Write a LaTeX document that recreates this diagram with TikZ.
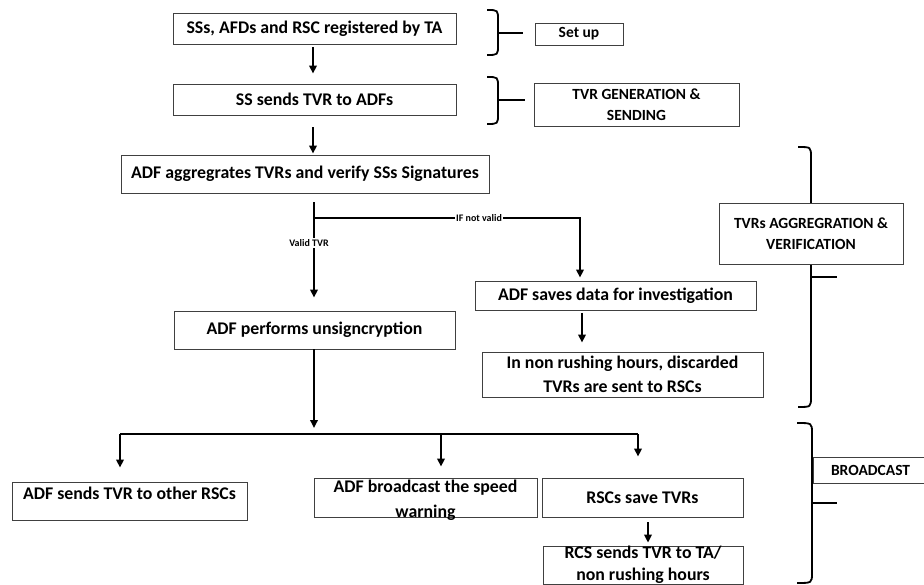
\documentclass[tikz,border=0pt]{standalone}
\usepackage{fontspec}
\setmainfont{Carlito}
\usetikzlibrary{arrows.meta}
\begin{document}
\begin{tikzpicture}[x=1pt,y=-1pt,
  box/.style={draw=black!75, line width=0.9pt, fill=white, inner sep=0pt, align=center, font=\bfseries\fontsize{17.8}{25}\selectfont},
  txt/.style={inner sep=0pt, align=center, font=\bfseries\fontsize{17.8}{24}\selectfont},
  tag/.style={draw=black!75, line width=0.9pt, fill=white, inner sep=0pt, align=center, font=\bfseries\fontsize{15.5}{21.5}\selectfont},
  arr/.style={line width=1.8pt, -{Triangle[length=8pt,width=7.5pt]}},
  ln/.style={line width=1.8pt},
  brace/.style={line width=1.8pt},
  small/.style={fill=white, inner sep=1pt, font=\bfseries\fontsize{10}{12}\selectfont}]
\clip (0,0) rectangle (924,585);
\fill[white] (0,0) rectangle (924,585);

% braces
\draw[brace] (487,10) .. controls (498,10) .. (498,20) -- (498,45) .. controls (498,55) .. (487,55);
\draw[brace] (498,33) -- (523,33);
\draw[brace] (487,77) .. controls (498,77) .. (498,87) -- (498,114) .. controls (498,124) .. (487,124);
\draw[brace] (498,100) -- (525,100);
\draw[brace] (798,147) .. controls (811,147) .. (811,157) -- (811,397) .. controls (811,407) .. (798,407);
\draw[brace] (811,277) -- (837,277);
\draw[brace] (797,423) .. controls (812,423) .. (812,433) -- (812,573) .. controls (812,583) .. (797,583);
\draw[brace] (812,503) -- (837,503);

% main boxes
\node[box, minimum width=283, minimum height=31] (b1) at (314.5,28.5) {SSs, AFDs and RSC registered by TA};
\node[box, minimum width=283, minimum height=31] (b2) at (314.5,99.5) {SS sends TVR to ADFs};
\node[box, minimum width=368, minimum height=38] (b3) at (305,174) {ADF aggregrates TVRs and verify SSs Signatures};
\node[box, minimum width=281, minimum height=38] (b4) at (314.5,330) {ADF performs unsigncryption};
\node[box, minimum width=281, minimum height=29] (b9) at (615.5,295.5) {ADF saves data for investigation};
\node[box, minimum width=281, minimum height=45, font=\bfseries\fontsize{17.8}{24}\selectfont] (b10) at (622.5,374.5) {In non rushing hours, discarded\\TVRs are sent to RSCs};
\node[box, minimum width=235, minimum height=38, text height=13pt, text depth=17pt] (b5) at (129.5,501) {ADF sends TVR to other RSCs};
\node[box, minimum width=223, minimum height=39] (b6) at (425.5,497.5) {};
\node[txt, font=\bfseries\fontsize{17.8}{25}\selectfont] (b6t) at ([yshift=-3pt]b6.center) {ADF broadcast the speed\\warning};
\node[box, minimum width=201, minimum height=39] (b7) at (642.5,497.5) {RSCs save TVRs};
\node[box, minimum width=200, minimum height=38.5] (b8) at (643,565.3) {};
\node[txt, font=\bfseries\fontsize{17.8}{22}\selectfont] (b8t) at ([yshift=1pt]b8.center) {RCS sends TVR to TA/\\non rushing hours};

% phase tags
\node[tag, minimum width=88, minimum height=22] (t1) at (579,34) {Set up};
\node[tag, minimum width=205, minimum height=43] (t2) at (636.5,104.5) {TVR GENERATION \&\\SENDING};
\node[tag, minimum width=184, minimum height=61] (t3) at (811,233.5) {TVRs AGGREGRATION \&\\VERIFICATION};
\node[tag, minimum width=130, minimum height=26, text width=120, align=left] (t4) at (878,470) {\hspace*{13pt}BROADCAST};

% connectors
\draw[arr] ([xshift=-1.5pt]b1.south) ++(0,3) -- ([xshift=-1.5pt,yshift=10pt]b2.north);
\draw[arr] ([xshift=-1.5pt]b2.south) ++(0,12) coordinate (a2s) -- ([yshift=1pt]a2s |- b3.north);
\coordinate (br) at (314,218);
\draw[arr] (b3.south -| br) ++(0,9) coordinate (a3s) -- ([yshift=13pt]a3s |- b4.north);
\node[small] (v) at (309,243) {Valid TVR};
\coordinate (bc) at (580,218);
\draw[arr] (br) -- (bc) -- ([yshift=3pt]bc |- b9.north);
\node[small] (nv) at (479,218) {IF not valid};
\draw[arr] (582,310) ++(0,3) coordinate (a4s) -- ([yshift=9pt]a4s |- b10.north);

\coordinate (sp) at (314,434);
\coordinate (sl) at (120,434);
\coordinate (sm) at (441,434);
\coordinate (sr) at (638,434);
\draw[arr] (b4.south -| sp) -- ([yshift=6pt]sp);
\draw[ln] (sl) -- (sr);
\draw[arr] (sl) -- ([yshift=14pt]sl |- b5.north);
\draw[arr] (sm) -- ([yshift=11pt]sm |- b6.north);
\draw[arr] (sr) -- ([yshift=21pt]sr |- b7.north);
\draw[arr] (648,517) ++(0,5) coordinate (a6s) -- ([yshift=3pt]a6s |- b8.north);
\end{tikzpicture}
\end{document}
